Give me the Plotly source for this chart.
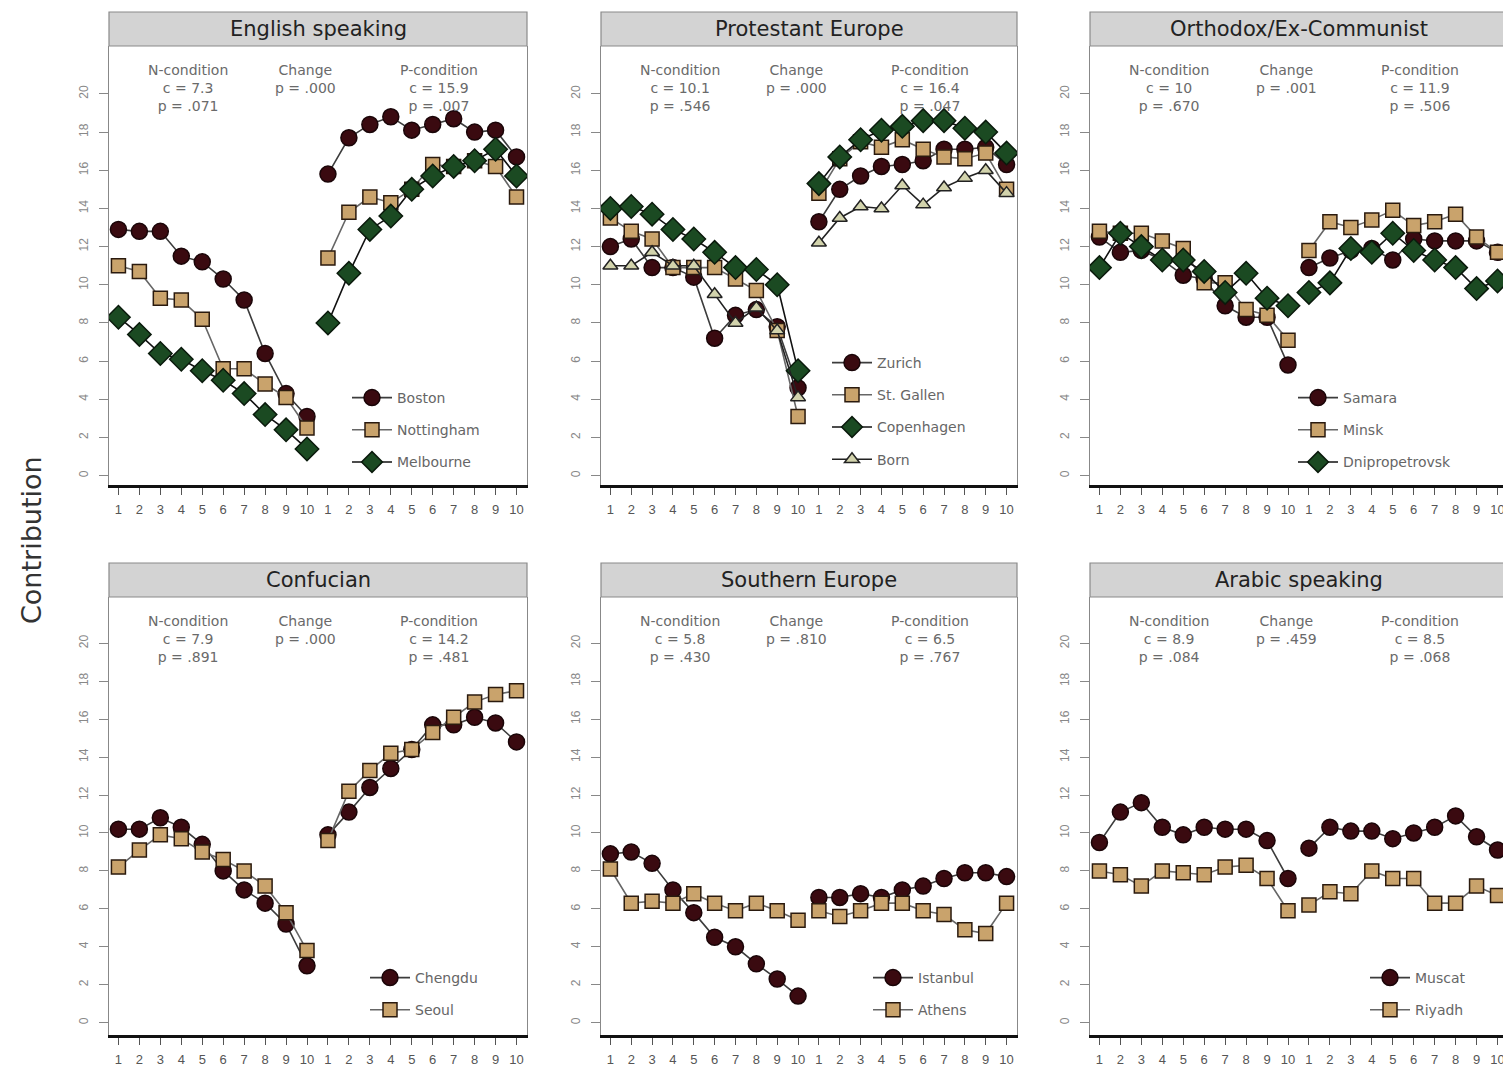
import plotly.graph_objects as go

# ---------------- data ----------------
tick_labels = [str(i) for i in range(1, 11)] * 2
positions = list(range(1, 21))

panel_titles = ["English speaking", "Protestant Europe", "Orthodox/Ex-Communist",
                "Confucian", "Southern Europe", "Arabic speaking"]
n_c = ["7.3", "10.1", "10", "7.9", "5.8", "8.9"]
n_p = [".071", ".546", ".670", ".891", ".430", ".084"]
change_p = [".000", ".000", ".001", ".000", ".810", ".459"]
p_c = ["15.9", "16.4", "11.9", "14.2", "6.5", "8.5"]
p_p = [".007", ".047", ".506", ".481", ".767", ".068"]

# English speaking
boston_n = [12.9, 12.8, 12.8, 11.5, 11.2, 10.3, 9.2, 6.4, 4.3, 3.1]
boston_p = [15.8, 17.7, 18.4, 18.8, 18.1, 18.4, 18.7, 18.0, 18.1, 16.7]
nottingham_n = [11.0, 10.7, 9.3, 9.2, 8.2, 5.6, 5.6, 4.8, 4.1, 2.5]
nottingham_p = [11.4, 13.8, 14.6, 14.3, 15.0, 16.3, 16.2, 16.5, 16.2, 14.6]
melbourne_n = [8.3, 7.4, 6.4, 6.1, 5.5, 5.0, 4.3, 3.2, 2.4, 1.4]
melbourne_p = [8.0, 10.6, 12.9, 13.6, 15.0, 15.7, 16.2, 16.5, 17.1, 15.7]

# Protestant Europe
zurich_n = [12.0, 12.4, 10.9, 10.9, 10.4, 7.2, 8.4, 8.7, 7.8, 4.6]
zurich_p = [13.3, 15.0, 15.7, 16.2, 16.3, 16.5, 17.1, 17.1, 17.2, 16.3]
stgallen_n = [13.5, 12.8, 12.4, 10.9, 10.9, 10.9, 10.3, 9.7, 7.6, 3.1]
stgallen_p = [14.8, 16.6, 17.5, 17.2, 17.6, 17.1, 16.7, 16.6, 16.9, 15.0]
copenhagen_n = [14.0, 14.1, 13.7, 12.9, 12.4, 11.7, 10.9, 10.8, 10.0, 5.5]
copenhagen_p = [15.3, 16.7, 17.6, 18.1, 18.3, 18.6, 18.6, 18.2, 18.0, 16.9]
born_n = [11.0, 11.0, 11.7, 11.0, 11.0, 9.5, 8.0, 8.8, 7.6, 4.1]
born_p = [12.2, 13.5, 14.1, 14.0, 15.2, 14.2, 15.1, 15.6, 16.0, 14.8]

# Orthodox / Ex-Communist
samara_n = [12.5, 11.7, 11.8, 11.3, 10.5, 10.3, 8.9, 8.3, 8.3, 5.8]
samara_p = [10.9, 11.4, 11.8, 11.9, 11.3, 12.4, 12.3, 12.3, 12.3, 11.7]
minsk_n = [12.8, 12.7, 12.7, 12.3, 11.9, 10.1, 10.1, 8.7, 8.4, 7.1]
minsk_p = [11.8, 13.3, 13.0, 13.4, 13.9, 13.1, 13.3, 13.7, 12.5, 11.7]
dnipro_n = [10.9, 12.7, 12.0, 11.3, 11.3, 10.7, 9.6, 10.6, 9.3, 8.9]
dnipro_p = [9.6, 10.1, 11.9, 11.7, 12.7, 11.8, 11.3, 10.9, 9.8, 10.2]

# Confucian
chengdu_n = [10.2, 10.2, 10.8, 10.3, 9.4, 8.0, 7.0, 6.3, 5.2, 3.0]
chengdu_p = [9.9, 11.1, 12.4, 13.4, 14.4, 15.7, 15.7, 16.1, 15.8, 14.8]
seoul_n = [8.2, 9.1, 9.9, 9.7, 9.0, 8.6, 8.0, 7.2, 5.8, 3.8]
seoul_p = [9.6, 12.2, 13.3, 14.2, 14.4, 15.3, 16.1, 16.9, 17.3, 17.5]

# Southern Europe
istanbul_n = [8.9, 9.0, 8.4, 7.0, 5.8, 4.5, 4.0, 3.1, 2.3, 1.4]
istanbul_p = [6.6, 6.6, 6.8, 6.6, 7.0, 7.2, 7.6, 7.9, 7.9, 7.7]
athens_n = [8.1, 6.3, 6.4, 6.3, 6.8, 6.3, 5.9, 6.3, 5.9, 5.4]
athens_p = [5.9, 5.6, 5.9, 6.3, 6.3, 5.9, 5.7, 4.9, 4.7, 6.3]

# Arabic speaking
muscat_n = [9.5, 11.1, 11.6, 10.3, 9.9, 10.3, 10.2, 10.2, 9.6, 7.6]
muscat_p = [9.2, 10.3, 10.1, 10.1, 9.7, 10.0, 10.3, 10.9, 9.8, 9.1]
riyadh_n = [8.0, 7.8, 7.2, 8.0, 7.9, 7.8, 8.2, 8.3, 7.6, 5.9]
riyadh_p = [6.2, 6.9, 6.8, 8.0, 7.6, 7.6, 6.3, 6.3, 7.2, 6.7]

panel_series = [
    [("Boston", boston_n, boston_p, "circle"),
     ("Nottingham", nottingham_n, nottingham_p, "square"),
     ("Melbourne", melbourne_n, melbourne_p, "diamond")],
    [("Zurich", zurich_n, zurich_p, "circle"),
     ("St. Gallen", stgallen_n, stgallen_p, "square"),
     ("Copenhagen", copenhagen_n, copenhagen_p, "diamond"),
     ("Born", born_n, born_p, "triangle")],
    [("Samara", samara_n, samara_p, "circle"),
     ("Minsk", minsk_n, minsk_p, "square"),
     ("Dnipropetrovsk", dnipro_n, dnipro_p, "diamond")],
    [("Chengdu", chengdu_n, chengdu_p, "circle"),
     ("Seoul", seoul_n, seoul_p, "square")],
    [("Istanbul", istanbul_n, istanbul_p, "circle"),
     ("Athens", athens_n, athens_p, "square")],
    [("Muscat", muscat_n, muscat_p, "circle"),
     ("Riyadh", riyadh_n, riyadh_p, "square")],
]

# ---------------- styles ----------------
STY = {
    "circle": dict(symbol="circle", color="#3a0a10", size=16, edge="#1a0508", line="#3c3c3c"),
    "square": dict(symbol="square", color="#c9a36c", size=14, edge="#2a1a0e", line="#666666"),
    "diamond": dict(symbol="diamond", color="#1b4a22", size=18, edge="#0a1a0c", line="#111111"),
    "triangle": dict(symbol="triangle-up", color="#d2d3ac", size=13, edge="#222222", line="#222222"),
}
FONT = "Liberation Sans, Arial, sans-serif"
WFONT = "DejaVu Sans, Verdana, sans-serif"
OFF = 8                     # page body margin
W, H = 1511 - OFF, 1066 - OFF

def fx(px):
    return (px - OFF) / W

def fy(py):
    return 1 - (py - OFF) / H

x_dom = [(109, 527), (601, 1017), (1090, 1508)]
y_dom = [(46, 485), (597, 1035)]
y_rng = [(-0.49, 22.51), (-0.65, 22.44)]
legend_text_x = [397, 877, 1343, 415, 918, 1415]
legend_row1 = [398, 363, 398, 978, 978, 978]

fig = go.Figure()
layout = dict(width=W, height=H, margin=dict(l=0, r=0, t=0, b=0, autoexpand=False),
              paper_bgcolor="white", plot_bgcolor="white", showlegend=True,
              font=dict(family=FONT))
shapes, annotations = [], []

for i in range(6):
    r, c = divmod(i, 3)
    sfx = "" if i == 0 else str(i + 1)
    xa, ya = "x" + sfx, "y" + sfx
    lg = "legend" + sfx
    x0, x1 = x_dom[c]
    yt, yb = y_dom[r]
    layout["xaxis" + sfx] = dict(
        domain=[fx(x0), fx(x1)], range=[0.55, 20.5], anchor=ya, automargin=False,
        tickmode="array", tickvals=positions, ticktext=tick_labels,
        ticks="outside", ticklen=7, tickcolor="#555", tickwidth=1,
        ticklabelstandoff=4,
        tickfont=dict(size=13, color="#555", family=FONT),
        showline=True, linecolor="#111", linewidth=2.5, mirror=False,
        showgrid=False, zeroline=False, fixedrange=True)
    layout["yaxis" + sfx] = dict(
        domain=[fy(yb), fy(yt)], range=list(y_rng[r]), anchor=xa, automargin=False,
        tickmode="array", tickvals=list(range(0, 21, 2)),
        ticks="outside", ticklen=9, tickcolor="#888", tickangle=-90,
        ticklabelstandoff=6,
        tickfont=dict(size=12, color="#888", family=FONT),
        showline=True, linecolor="#888", linewidth=1, mirror=True,
        showgrid=False, zeroline=False, fixedrange=True)
    layout[lg] = dict(
        x=fx(legend_text_x[i] - 50), y=fy(legend_row1[i] - 16),
        xanchor="left", yanchor="top", bgcolor="rgba(0,0,0,0)",
        font=dict(size=14, color="#666", family=WFONT),
        tracegroupgap=11, itemwidth=40, traceorder="grouped")

    for name, nv, pv, key in panel_series[i]:
        s = STY[key]
        common = dict(mode="lines+markers", xaxis=xa, yaxis=ya,
                      line=dict(color=s["line"], width=1.6),
                      marker=dict(symbol=s["symbol"], size=s["size"], color=s["color"],
                                  line=dict(color=s["edge"], width=1.5)),
                      legendgroup=f"{i}-{name}", legend=lg, hoverinfo="skip")
        fig.add_trace(go.Scatter(x=positions[:10], y=nv, name=name, showlegend=True, **common))
        fig.add_trace(go.Scatter(x=positions[10:], y=pv, name=name, showlegend=False, **common))

    # strip header
    hdr = 34 / (yb - yt)
    shapes.append(dict(type="rect", xref=xa + " domain", yref=ya + " domain",
                       x0=0, x1=1, y0=1, y1=1 + hdr,
                       fillcolor="#d3d3d3", line=dict(color="#8a8a8a", width=1.2)))
    annotations.append(dict(text=panel_titles[i], xref=xa + " domain", yref=ya + " domain",
                            x=0.5, y=1 + hdr / 2, showarrow=False, xanchor="center",
                            yanchor="middle", font=dict(size=21, color="#222", family=WFONT)))
    # statistics text
    stat_top = 1 - 14 / (yb - yt)
    for fxp, txt in [(0.19, f"N-condition<br>c = {n_c[i]}<br>p = {n_p[i]}"),
                     (0.47, f"Change<br>p = {change_p[i]}"),
                     (0.79, f"P-condition<br>c = {p_c[i]}<br>p = {p_p[i]}")]:
        annotations.append(dict(text=txt, xref=xa + " domain", yref=ya + " domain",
                                x=fxp, y=stat_top, showarrow=False, xanchor="center",
                                yanchor="top", align="center",
                                font=dict(size=14, color="#6a6a6a", family=WFONT)))

annotations.append(dict(text="Contribution", xref="paper", yref="paper",
                        x=fx(31), y=fy(540), textangle=-90, showarrow=False,
                        xanchor="center", yanchor="middle",
                        font=dict(size=27, color="#333", family=WFONT)))
layout["shapes"] = shapes
layout["annotations"] = annotations
fig.update_layout(**layout)
fig.write_html("out.html")
